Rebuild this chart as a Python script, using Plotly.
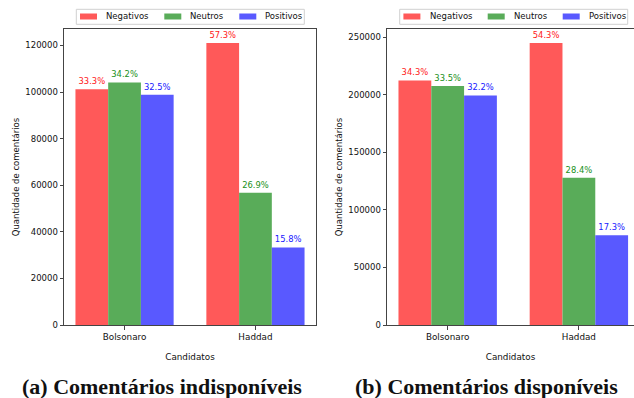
import plotly.graph_objects as go
from plotly.subplots import make_subplots

candidatos = ["Bolsonaro", "Haddad"]
series_names = ["Negativos", "Neutros", "Positivos"]

# (a) Comentários indisponíveis
a_negativos = [101200, 121000]
a_neutros = [104100, 56800]
a_positivos = [98800, 33300]
a_pct_negativos = ["33.3%", "57.3%"]
a_pct_neutros = ["34.2%", "26.9%"]
a_pct_positivos = ["32.5%", "15.8%"]

# (b) Comentários disponíveis
b_negativos = [212600, 245100]
b_neutros = [207700, 128000]
b_positivos = [199600, 78100]
b_pct_negativos = ["34.3%", "54.3%"]
b_pct_neutros = ["33.5%", "28.4%"]
b_pct_positivos = ["32.2%", "17.3%"]

a_yticks = [0, 20000, 40000, 60000, 80000, 100000, 120000]
b_yticks = [0, 50000, 100000, 150000, 200000, 250000]

captions = ["(a) Comentários indisponíveis", "(b) Comentários disponíveis"]

bar_colors = ["#FF5959", "#59AC59", "#5959FF"]
text_colors = ["#FF2020", "#209020", "#2020FF"]

W, H = 634, 398
ML, MR, MT, MB = 64, 0, 29, 73
PW = W - ML - MR
PH = H - MT - MB


def px_x(px):
    return (px - ML) / PW


def px_y(py):
    return (H - MB - py) / PH


fig = make_subplots(rows=1, cols=2, horizontal_spacing=0.0)

panels = [
    (1, [a_negativos, a_neutros, a_positivos], [a_pct_negativos, a_pct_neutros, a_pct_positivos]),
    (2, [b_negativos, b_neutros, b_positivos], [b_pct_negativos, b_pct_neutros, b_pct_positivos]),
]
for col, vals, pcts in panels:
    for name, v, p, bc, tc in zip(series_names, vals, pcts, bar_colors, text_colors):
        fig.add_trace(
            go.Bar(
                x=candidatos, y=v, name=name, text=p,
                textposition="outside", cliponaxis=False, constraintext="none",
                textfont=dict(family="DejaVu Sans", size=8.4, color=tc),
                marker=dict(color=bc, line=dict(width=0)),
                showlegend=False, hoverinfo="skip",
            ),
            row=1, col=col,
        )

fig.update_layout(
    width=W, height=H,
    margin=dict(l=ML, r=MR, t=MT, b=MB, pad=0, autoexpand=False),
    plot_bgcolor="white", paper_bgcolor="white",
    barmode="group", bargap=0.25, bargroupgap=0,
    font=dict(family="DejaVu Sans", size=8.5, color="#111"),
)

axis_line = dict(showline=True, linecolor="#444", linewidth=1, ticks="outside",
                 ticklen=3.5, tickcolor="#444", showgrid=False, zeroline=False,
                 automargin=False)

left_dom = [0, px_x(316)]
right_dom = [px_x(387), 1]

fig.update_xaxes(domain=left_dom, range=[-0.4625, 1.4625], mirror=True,
                 title=dict(text="Candidatos", standoff=12, font=dict(size=8.8)),
                 tickfont=dict(size=8.8), row=1, col=1, **axis_line)
fig.update_xaxes(domain=right_dom, range=[-0.4625, -0.4625 + 247 / 131.2], mirror=True,
                 title=dict(text="Candidatos", standoff=12, font=dict(size=8.8)),
                 tickfont=dict(size=8.8), row=1, col=2, **axis_line)
fig.update_yaxes(range=[0, 127050], tickvals=a_yticks, tickformat="d", mirror=True,
                 title=dict(text="Quantidade de comentários", standoff=4, font=dict(size=8.5)),
                 tickfont=dict(size=8.5), row=1, col=1, **axis_line)
fig.update_yaxes(range=[0, 257355], tickvals=b_yticks, tickformat="d", mirror=False,
                 title=dict(text="Quantidade de comentários", standoff=4, font=dict(size=8.5)),
                 tickfont=dict(size=8.5), row=1, col=2, **axis_line)

shapes = []
annotations = []
for L in (76.3, 399.7):
    shapes.append(dict(type="rect", xref="paper", yref="paper",
                       x0=px_x(L), x1=px_x(L + 228), y0=px_y(24.3), y1=px_y(9.3),
                       line=dict(color="#d0d0d0", width=1), fillcolor="white"))
    for (po, to), name, c in zip([(3.7, 28), (88, 112), (163, 187)], series_names, bar_colors):
        shapes.append(dict(type="rect", xref="paper", yref="paper",
                           x0=px_x(L + po), x1=px_x(L + po + 17), y0=px_y(19.5), y1=px_y(13.5),
                           line=dict(width=0), fillcolor=c))
        annotations.append(dict(text=name, xref="paper", yref="paper", x=px_x(L + to), y=px_y(16.5),
                                xanchor="left", yanchor="middle", showarrow=False,
                                font=dict(family="DejaVu Sans", size=8.5, color="#111")))

for cx, cap in zip((162, 486), captions):
    annotations.append(dict(text="<b>" + cap + "</b>", xref="paper", yref="paper",
                            x=px_x(cx), y=px_y(386), xanchor="center", yanchor="middle",
                            showarrow=False,
                            font=dict(family="Liberation Serif", size=22, color="#111")))

fig.update_layout(shapes=shapes, annotations=annotations)
fig.write_html("out.html", config={"displayModeBar": False},
               post_script="document.body.style.margin='0';document.body.style.overflow='hidden';")
